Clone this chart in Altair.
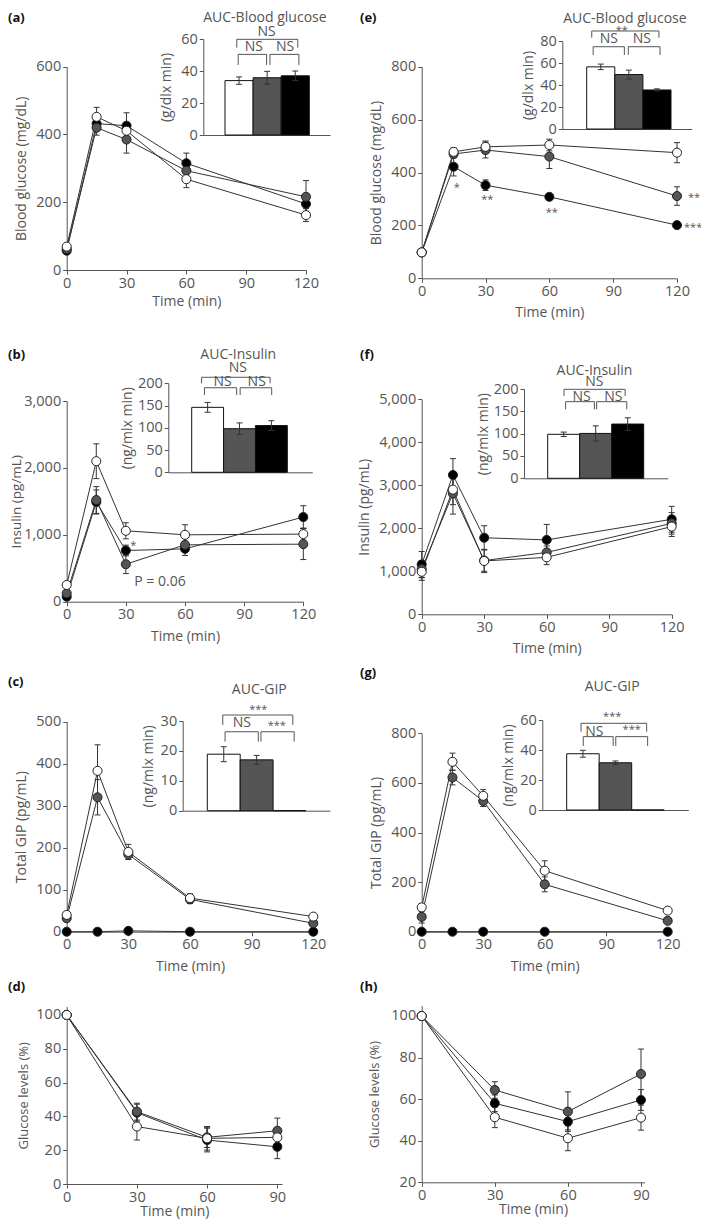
import altair as alt
import pandas as pd

W, H, M = 693, 1211, 8
FONT = "Open Sans"
INK = "#555555"
LINE = "#333333"

GROUP_DRAW = ["black", "gray", "white"]
GROUP_FILL = ["#000000", "#555555", "#ffffff"]
BAR_GROUPS = ["white", "gray", "black"]
BAR_POS = [1, 2, 3]

T_GTT = [0, 15, 30, 60, 120]
T_ITT = [0, 30, 60, 90]

# (a) blood glucose, GTT
A_WHITE = [69, 452, 411, 268, 162]; A_WHITE_SE = [5, 28, 20, 25, 19]
A_GRAY = [62, 420, 385, 293, 216]; A_GRAY_SE = [5, 22, 40, 25, 48]
A_BLACK = [57, 432, 426, 315, 195]; A_BLACK_SE = [5, 20, 38, 30, 22]
A_AUC = [34, 35.8, 37]; A_AUC_SE = [2.3, 4, 3]
# (b) insulin
B_WHITE = [250, 2100, 1060, 1000, 1010]; B_WHITE_SE = [40, 260, 120, 150, 90]
B_GRAY = [125, 1520, 560, 850, 860]; B_GRAY_SE = [30, 200, 140, 100, 230]
B_BLACK = [75, 1490, 765, 790, 1265]; B_BLACK_SE = [20, 180, 80, 100, 170]
B_AUC = [146, 98, 105]; B_AUC_SE = [11, 13, 11]
# (c) total GIP
C_WHITE = [40, 383, 190, 80, 36]; C_WHITE_SE = [8, 62, 18, 10, 5]
C_GRAY = [32, 320, 184, 77, 20]; C_GRAY_SE = [8, 42, 12, 10, 5]
C_BLACK = [0, 0, 2, 0, 0]; C_BLACK_SE = [0, 0, 0, 0, 0]
C_AUC = [18.9, 17, 0]; C_AUC_SE = [2.5, 1.5, 0]
# (d) ITT glucose %
D_WHITE = [100, 34, 27, 27.6]; D_WHITE_SE = [0, 8, 7, 5]
D_GRAY = [100, 42.8, 27.6, 31.5]; D_GRAY_SE = [0, 5, 6, 7.5]
D_BLACK = [100, 42.2, 26, 22]; D_BLACK_SE = [0, 5, 7, 7]
# (e) blood glucose
E_WHITE = [98, 478, 497, 504, 475]; E_WHITE_SE = [5, 15, 22, 22, 38]
E_GRAY = [98, 470, 485, 460, 311]; E_GRAY_SE = [5, 15, 30, 45, 35]
E_BLACK = [98, 422, 352, 308, 201]; E_BLACK_SE = [5, 35, 20, 8, 6]
E_AUC = [56.5, 49.5, 35.5]; E_AUC_SE = [2.5, 4, 1]
# (f) insulin
F_WHITE = [990, 2900, 1240, 1325, 2040]; F_WHITE_SE = [200, 350, 270, 170, 230]
F_GRAY = [1050, 2810, 1250, 1440, 2115]; F_GRAY_SE = [200, 480, 250, 150, 250]
F_BLACK = [1160, 3240, 1780, 1730, 2210]; F_BLACK_SE = [300, 380, 280, 360, 300]
F_AUC = [98.5, 100.5, 121.5]; F_AUC_SE = [5, 17, 14]
# (g) total GIP
G_WHITE = [98, 685, 548, 246, 85]; G_WHITE_SE = [15, 35, 25, 40, 8]
G_GRAY = [60, 622, 527, 191, 44]; G_GRAY_SE = [25, 30, 22, 30, 8]
G_BLACK = [0, 0, 0, 0, 0]; G_BLACK_SE = [0, 0, 0, 0, 0]
G_AUC = [37.5, 31.5, 0]; G_AUC_SE = [2.3, 1.2, 0]
# (h) ITT glucose %
H_WHITE = [100, 51.3, 41.2, 51.1]; H_WHITE_SE = [0, 5, 6, 6]
H_GRAY = [100, 64.4, 54, 72.1]; H_GRAY_SE = [0, 4, 9.5, 12]
H_BLACK = [100, 58, 49.2, 59.6]; H_BLACK_SE = [0, 4, 4, 5]

# significance brackets in insets (bar units / inset value units)
A_BR_X1 = [0.92, 0.97, 2.10]; A_BR_X2 = [3.09, 1.98, 3.13]; A_BR_TOP = [59.8, 50.4, 50.4]; A_BR_BOT = [54.6, 43.8, 43.8]
A_SIG = ["NS", "NS", "NS"]; A_SIG_X = [1.98, 1.53, 2.64]; A_SIG_Y = [64.6, 55.2, 55.2]
B_BR_X1 = [0.81, 0.90, 2.02]; B_BR_X2 = [2.96, 1.91, 3.01]; B_BR_TOP = [213.5, 190, 190]; B_BR_BOT = [200, 173.7, 173.7]
B_SIG = ["NS", "NS", "NS"]; B_SIG_X = [1.95, 1.47, 2.54]; B_SIG_Y = [233.7, 203.6, 203.6]
C_BR_X1 = [0.97, 1.04, 2.13]; C_BR_X2 = [3.10, 2.05, 3.14]; C_BR_TOP = [32, 26.4, 26.4]; C_BR_BOT = [28.7, 23.1, 23.1]
C_SIG = ["***", "NS", "***"]; C_SIG_X = [2.05, 1.55, 2.61]; C_SIG_Y = [34.8, 29.2, 29.4]
E_BR_X1 = [0.68, 0.73, 1.98]; E_BR_X2 = [3.07, 1.84, 3.11]; E_BR_TOP = [89.1, 74.8, 74.8]; E_BR_BOT = [83, 67.3, 67.3]
E_SIG = ["**", "NS", "NS"]; E_SIG_X = [1.75, 1.29, 2.46]; E_SIG_Y = [92.2, 81.5, 81.5]
F_BR_X1 = [1.01, 1.06, 2.03]; F_BR_X2 = [2.92, 1.96, 2.97]; F_BR_TOP = [199.3, 171.6, 171.6]; F_BR_BOT = [184.3, 154.5, 154.5]
F_SIG = ["NS", "NS", "NS"]; F_SIG_X = [1.96, 1.56, 2.55]; F_SIG_Y = [216.3, 182.8, 182.8]
G_BR_X1 = [0.94, 1.01, 2.01]; G_BR_X2 = [2.96, 1.93, 2.99]; G_BR_TOP = [57.8, 48.9, 48.9]; G_BR_BOT = [52.2, 42.7, 42.7]
G_SIG = ["***", "NS", "***"]; G_SIG_X = [1.90, 1.35, 2.5]; G_SIG_Y = [64, 52.2, 55.1]

# annotations on main panels
B_NOTE_T = [33.8]; B_NOTE_V = [875]; B_NOTE_S = ["*"]
B_P_T = [47.3]; B_P_V = [300]; B_P_S = ["P = 0.06"]
E_NOTE_T = [16.5, 30.8, 61.1]; E_NOTE_V = [352, 308, 258]; E_NOTE_S = ["*", "**", "**"]
E_END_T = [125.2, 123.3]; E_END_V = [315, 201]; E_END_S = ["**", "***"]

FILL_SCALE = alt.Scale(domain=GROUP_DRAW, range=GROUP_FILL)
LABEL_SIZE = 14.5
TITLE_SIZE = 14


def cx(p):
    return p - M


def cy(p):
    return p - M


def line_panel(times, series, errs, xdom, ydom, xpx, ypx, xticks, yticks, ytitle,
               yfmt=None, ytp=8, xtp=8, notes=(), ytsize=TITLE_SIZE):
    rows = []
    for g in GROUP_DRAW:
        for t, v, e in zip(times, series[g], errs[g]):
            rows.append(dict(t=t, v=v, e=e, g=g))
    df = pd.DataFrame(rows)
    xs = alt.Scale(domain=xdom, range=[cx(xpx[0]), cx(xpx[1])], nice=False, zero=False)
    ys = alt.Scale(domain=ydom, range=[cy(ypx[0]), cy(ypx[1])], nice=False, zero=False)
    xa = alt.Axis(orient="bottom", offset=cy(ypx[0]) - H, values=xticks, title="Time (min)",
                  titlePadding=xtp, titleFontWeight="normal", titleFontSize=TITLE_SIZE)
    yargs = dict(orient="left", offset=-cx(xpx[0]), values=yticks, title=ytitle, titlePadding=ytp,
                 titleFontWeight="normal", titleFontSize=ytsize)
    if yfmt:
        yargs["format"] = yfmt
    ya = alt.Axis(**yargs)

    def X(f):
        return alt.X(f, type="quantitative", scale=xs, axis=xa)

    def Y(f):
        return alt.Y(f, type="quantitative", scale=ys, axis=ya)

    base = alt.Chart(df)
    lines = base.mark_line(color=LINE, strokeWidth=1).encode(x=X("t"), y=Y("v"), detail="g:N")
    eb = base.transform_filter("datum.e > 0").transform_calculate(
        lo="datum.v - datum.e", hi="datum.v + datum.e")
    rules = eb.mark_rule(color=LINE, strokeWidth=1).encode(x=X("t"), y=Y("lo"), y2="hi:Q")
    cap_hi = eb.mark_tick(orient="horizontal", size=6, thickness=1, color=LINE, opacity=1).encode(
        x=X("t"), y=Y("hi"))
    cap_lo = eb.mark_tick(orient="horizontal", size=6, thickness=1, color=LINE, opacity=1).encode(
        x=X("t"), y=Y("lo"))
    pts = base.mark_point(shape="circle", filled=True, size=82, stroke="#222", strokeWidth=1,
                          opacity=1).encode(
        x=X("t"), y=Y("v"), fill=alt.Fill("g:N", scale=FILL_SCALE, legend=None))
    layers = [lines, rules, cap_hi, cap_lo, pts]
    for (nt, nv, ns, size, align, dy) in notes:
        ndf = pd.DataFrame({"t": nt, "v": nv, "s": ns})
        layers.append(alt.Chart(ndf).mark_text(font=FONT, fontSize=size, color=INK, align=align,
                                               baseline="middle", dy=dy).encode(
            x=X("t"), y=Y("v"), text="s:N"))
    return alt.layer(*layers)


def inset(vals, errs, ydom, ypx, axpx, bar_left, bar_w, yticks, ytitle, ytp, title, title_x,
          title_y, br_x1, br_x2, br_top, br_bot, sig_s, sig_x, sig_y):
    d0 = 0.5 - (bar_left - axpx[0]) / bar_w
    d1 = 0.5 + (axpx[1] - bar_left) / bar_w
    xs = alt.Scale(domain=[d0, d1], range=[cx(axpx[0]), cx(axpx[1])], nice=False, zero=False)
    ys = alt.Scale(domain=ydom, range=[cy(ypx[0]), cy(ypx[1])], nice=False, zero=False)
    xa = alt.Axis(orient="bottom", offset=cy(ypx[0]) - H, labels=False, ticks=False, title=None,
                  domain=True)
    ya = alt.Axis(orient="left", offset=-cx(axpx[0]), values=yticks, title=ytitle, titlePadding=ytp,
                  titleFontWeight="normal", titleFontSize=TITLE_SIZE)

    def X(f):
        return alt.X(f, type="quantitative", scale=xs, axis=xa)

    def Y(f):
        return alt.Y(f, type="quantitative", scale=ys, axis=ya)

    bdf = pd.DataFrame({"pos": BAR_POS, "g": BAR_GROUPS, "v": vals, "e": errs})
    base = alt.Chart(bdf).transform_calculate(
        x0="datum.pos - 0.5", x1="datum.pos + 0.5", z="0",
        lo="datum.v - datum.e", hi="datum.v + datum.e")
    bars = base.mark_rect(stroke="#111", strokeWidth=1).encode(
        x=X("x0"), x2="x1:Q", y=Y("z"), y2="v:Q",
        fill=alt.Fill("g:N", scale=FILL_SCALE, legend=None))
    eb = base.transform_filter("datum.e > 0")
    rules = eb.mark_rule(color=LINE, strokeWidth=1).encode(x=X("pos"), y=Y("lo"), y2="hi:Q")
    cap_hi = eb.mark_tick(orient="horizontal", size=6, thickness=1, color=LINE, opacity=1).encode(
        x=X("pos"), y=Y("hi"))
    cap_lo = eb.mark_tick(orient="horizontal", size=6, thickness=1, color=LINE, opacity=1).encode(
        x=X("pos"), y=Y("lo"))
    brdf = pd.DataFrame({"x1": br_x1, "x2": br_x2, "yt": br_top, "yb": br_bot})
    bb = alt.Chart(brdf)
    bh = bb.mark_rule(color=INK, strokeWidth=1).encode(x=X("x1"), x2="x2:Q", y=Y("yt"))
    bl = bb.mark_rule(color=INK, strokeWidth=1).encode(x=X("x1"), y=Y("yt"), y2="yb:Q")
    br = bb.mark_rule(color=INK, strokeWidth=1).encode(x=X("x2"), y=Y("yt"), y2="yb:Q")
    sdf = pd.DataFrame({"x": sig_x, "y": sig_y, "s": sig_s})
    sb = alt.Chart(sdf)
    ns = sb.transform_filter("datum.s == 'NS'").mark_text(
        font=FONT, fontSize=14, color=INK, baseline="middle").encode(x=X("x"), y=Y("y"), text="s:N")
    ast = sb.transform_filter("datum.s != 'NS'").mark_text(
        font=FONT, fontSize=11, color=INK, baseline="middle", dy=3).encode(
        x=X("x"), y=Y("y"), text="s:N")
    tdf = pd.DataFrame({"x": [title_x], "y": [title_y], "s": [title]})
    tt = alt.Chart(tdf).mark_text(font=FONT, fontSize=14, color=INK, baseline="middle").encode(
        x=X("x"), y=Y("y"), text="s:N")
    return alt.layer(bars, rules, cap_hi, cap_lo, bh, bl, br, ns, ast, tt)


def letter(s, x, y):
    return alt.Chart(pd.DataFrame({"s": [s]})).mark_text(
        font=FONT, fontSize=13, fontWeight="bold", color="#111", align="left",
        baseline="middle").encode(text="s:N", x=alt.value(cx(x)), y=alt.value(cy(y)))


def ser(w, g, b):
    return {"white": w, "gray": g, "black": b}


layers = []
# (a)
layers.append(line_panel(T_GTT, ser(A_WHITE, A_GRAY, A_BLACK), ser(A_WHITE_SE, A_GRAY_SE, A_BLACK_SE),
                         [0, 120], [0, 600], (66.7, 306), (270, 66.7), [0, 30, 60, 90, 120],
                         [0, 200, 400, 600], "Blood glucose (mg/dL)", ytp=7, xtp=5))
layers.append(inset(A_AUC, A_AUC_SE, [0, 60], (135, 39), (203.3, 330), 225, 28.1, [0, 20, 40, 60],
                    "(g/dlx min)", 7, "AUC-Blood glucose", 1.92, 73.4,
                    A_BR_X1, A_BR_X2, A_BR_TOP, A_BR_BOT, A_SIG, A_SIG_X, A_SIG_Y))
# (b)
layers.append(line_panel(T_GTT, ser(B_WHITE, B_GRAY, B_BLACK), ser(B_WHITE_SE, B_GRAY_SE, B_BLACK_SE),
                         [0, 120], [0, 3000], (66.7, 303.3), (601.7, 401), [0, 30, 60, 90, 120],
                         [0, 1000, 2000, 3000], "Insulin (pg/mL)", yfmt=",d", ytp=0, xtp=8,
                         ytsize=13.5,
                         notes=[(B_NOTE_T, B_NOTE_V, B_NOTE_S, 11, "center", 3),
                                (B_P_T, B_P_V, B_P_S, 14, "center", 0)]))
layers.append(inset(B_AUC, B_AUC_SE, [0, 200], (472.3, 383.3), (168.3, 312.3), 191.7, 31.87,
                    [0, 50, 100, 150, 200], "(ng/mlx min)", 3, "AUC-Insulin", 1.96, 263.6,
                    B_BR_X1, B_BR_X2, B_BR_TOP, B_BR_BOT, B_SIG, B_SIG_X, B_SIG_Y))
# (c)
layers.append(line_panel(T_GTT, ser(C_WHITE, C_GRAY, C_BLACK), ser(C_WHITE_SE, C_GRAY_SE, C_BLACK_SE),
                         [0, 120], [0, 500], (66.7, 313.3), (931.7, 721.7), [0, 30, 60, 90, 120],
                         [0, 100, 200, 300, 400, 500], "Total GIP (pg/mL)", ytp=7, xtp=8))
layers.append(inset(C_AUC, C_AUC_SE, [0, 30], (810.7, 721), (182.7, 330), 207.3, 32.9,
                    [0, 10, 20, 30], "(ng/mlx min)", 5, "AUC-GIP", 2.08, 40.4,
                    C_BR_X1, C_BR_X2, C_BR_TOP, C_BR_BOT, C_SIG, C_SIG_X, C_SIG_Y))
# (d)
layers.append(line_panel(T_ITT, ser(D_WHITE, D_GRAY, D_BLACK), ser(D_WHITE_SE, D_GRAY_SE, D_BLACK_SE),
                         [0, 92], [0, 105], (66.7, 282), (1184, 1006.5), [0, 30, 60, 90],
                         [0, 20, 40, 60, 80, 100], "Glucose levels (%)", ytp=5, xtp=1, ytsize=13))
# (e)
layers.append(line_panel(T_GTT, ser(E_WHITE, E_GRAY, E_BLACK), ser(E_WHITE_SE, E_GRAY_SE, E_BLACK_SE),
                         [0, 120], [0, 800], (421.7, 677), (278.3, 66.7), [0, 30, 60, 90, 120],
                         [0, 200, 400, 600, 800], "Blood glucose (mg/dL)", ytp=7, xtp=8,
                         notes=[(E_NOTE_T, E_NOTE_V, E_NOTE_S, 11, "center", 3),
                                (E_END_T, E_END_V, E_END_S, 11, "left", 3)]))
layers.append(inset(E_AUC, E_AUC_SE, [0, 80], (129, 41), (562.3, 691.7), 586.7, 28.1,
                    [0, 20, 40, 60, 80], "(g/dlx min)", 4, "AUC-Blood glucose", 1.86, 100.4,
                    E_BR_X1, E_BR_X2, E_BR_TOP, E_BR_BOT, E_SIG, E_SIG_X, E_SIG_Y))
# (f)
layers.append(line_panel(T_GTT, ser(F_WHITE, F_GRAY, F_BLACK), ser(F_WHITE_SE, F_GRAY_SE, F_BLACK_SE),
                         [0, 120], [0, 5000], (421.7, 671.7), (614.3, 399.3), [0, 30, 60, 90, 120],
                         [0, 1000, 2000, 3000, 4000, 5000], "Insulin (pg/mL)", yfmt=",d", ytp=7, xtp=8))
layers.append(inset(F_AUC, F_AUC_SE, [0, 200], (478.3, 389), (524, 667.7), 547.7, 32,
                    [0, 50, 100, 150, 200], "(ng/mlx min)", 3, "AUC-Insulin", 1.96, 241,
                    F_BR_X1, F_BR_X2, F_BR_TOP, F_BR_BOT, F_SIG, F_SIG_X, F_SIG_Y))
# (g)
layers.append(line_panel(T_GTT, ser(G_WHITE, G_GRAY, G_BLACK), ser(G_WHITE_SE, G_GRAY_SE, G_BLACK_SE),
                         [0, 120], [0, 800], (421.7, 667.7), (931.7, 733.3), [0, 30, 60, 90, 120],
                         [0, 200, 400, 600, 800], "Total GIP (pg/mL)", ytp=7, xtp=8))
layers.append(inset(G_AUC, G_AUC_SE, [0, 60], (810, 720), (542.3, 688.3), 566.7, 32.5,
                    [0, 20, 40, 60], "(ng/mlx min)", 4, "AUC-GIP", 1.90, 82.2,
                    G_BR_X1, G_BR_X2, G_BR_TOP, G_BR_BOT, G_SIG, G_SIG_X, G_SIG_Y))
# (h)
layers.append(line_panel(T_ITT, ser(H_WHITE, H_GRAY, H_BLACK), ser(H_WHITE_SE, H_GRAY_SE, H_BLACK_SE),
                         [0, 91.4], [20, 105], (421.7, 644.4), (1182.3, 1005.6), [0, 30, 60, 90],
                         [20, 40, 60, 80, 100], "Glucose levels (%)", ytp=9, xtp=1, ytsize=13))

for s, x, y in [("(a)", 8, 18), ("(b)", 8, 355), ("(c)", 8, 681.7), ("(d)", 8, 987.3),
                ("(e)", 360, 18), ("(f)", 360, 355), ("(g)", 360, 673.3), ("(h)", 360, 987.3)]:
    layers.append(letter(s, x, y))

chart = alt.layer(*layers).resolve_scale(
    x="independent", y="independent"
).resolve_axis(
    x="independent", y="independent"
).properties(
    width=W, height=H, padding=0, autosize=alt.AutoSizeParams(type="none")
).configure_view(
    stroke=None
).configure_axis(
    grid=False, labelFont=FONT, titleFont=FONT, labelFontSize=LABEL_SIZE, titleFontSize=TITLE_SIZE,
    titleFontWeight="normal", labelColor=INK, titleColor=INK, domainColor="#555",
    tickColor="#555", tickSize=4, labelPadding=2, labelFlush=False, labelOverlap=False,
    domainWidth=1, tickWidth=1
).configure_text(font=FONT)

chart.save("out.html", embed_options={"renderer": "svg", "actions": False})
